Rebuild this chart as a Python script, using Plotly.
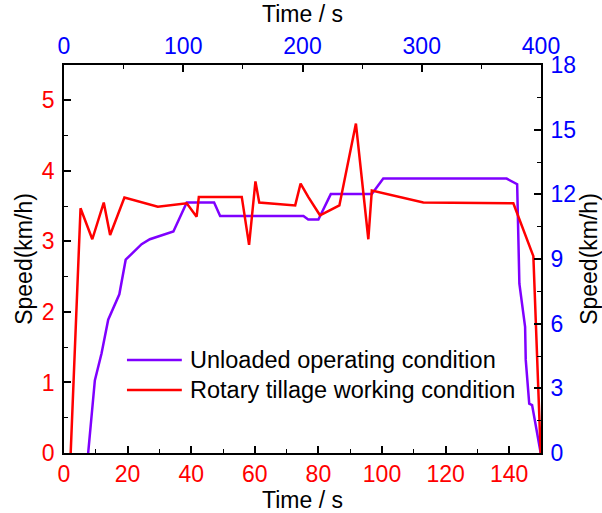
import plotly.graph_objects as go

# Rotary tillage working condition (bottom/left axes: s, km/h)
rotary_t = [2.1, 5.2, 8.9, 12.5, 14.5, 19.0, 29.5, 38.6, 41.7, 42.4, 55.9, 58.2, 60.2, 61.4,
            72.7, 74.4, 76.8, 80.5, 86.6, 91.8, 95.7, 96.8, 113.0, 137.6, 141.3, 147.6, 149.9]
rotary_v = [0.0, 3.47, 3.03, 3.55, 3.09, 3.62, 3.49, 3.54, 3.35, 3.63, 3.63, 2.95, 3.85, 3.55,
            3.51, 3.82, 3.63, 3.37, 3.51, 4.67, 3.03, 3.72, 3.55, 3.55, 3.54, 2.79, 0.0]

# Unloaded operating condition
unloaded_t = [7.6, 9.7, 11.8, 13.9, 17.4, 19.4, 24.4, 27.0, 34.4, 38.6, 47.2, 49.1, 75.3, 76.8,
              80.0, 83.9, 96.8, 100.4, 139.2, 142.5, 143.2, 145.0, 145.2, 146.3, 147.2, 149.9]
unloaded_v = [0.0, 1.03, 1.41, 1.89, 2.25, 2.74, 2.96, 3.03, 3.14, 3.55, 3.55, 3.36, 3.36, 3.31,
              3.31, 3.67, 3.67, 3.89, 3.89, 3.81, 2.40, 1.79, 1.32, 0.70, 0.68, 0.0]

series_names = ["Unloaded operating condition", "Rotary tillage working condition"]

bottom_ticks = [0, 20, 40, 60, 80, 100, 120, 140]
left_ticks = [0, 1, 2, 3, 4, 5]
top_ticks = [0, 100, 200, 300, 400]
right_ticks = [0, 3, 6, 9, 12, 15, 18]

RED = "#FF0000"
PURPLE = "#7F00FF"
BLUE = "#0000FF"
FONT = "Liberation Sans, Arial, sans-serif"
TICK = 23
TITLE = 23
LEGEND = 23.5

fig = go.Figure()
fig.add_trace(go.Scatter(x=unloaded_t, y=unloaded_v, mode="lines",
                         line=dict(color=PURPLE, width=2.5), name=series_names[0]))
fig.add_trace(go.Scatter(x=rotary_t, y=rotary_v, mode="lines",
                         line=dict(color=RED, width=2.5), name=series_names[1]))
# anchor trace so top/right axes are drawn
fig.add_trace(go.Scatter(x=[None], y=[None], xaxis="x2", yaxis="y2",
                         showlegend=False, hoverinfo="skip"))

axis_common = dict(showline=True, linecolor="black", linewidth=1.6, mirror=False,
                   ticks="inside", ticklen=7, tickwidth=1.5, tickcolor="black",
                   showgrid=False, zeroline=False, automargin=False)
minor_common = dict(ticks="inside", ticklen=4, tickwidth=1.3, tickcolor="black")

fig.update_layout(
    width=602, height=513,
    margin=dict(l=64, r=61, t=65, b=60),
    plot_bgcolor="white", paper_bgcolor="white",
    font=dict(family=FONT, size=TICK, color="black"),
    showlegend=False,
    xaxis=dict(range=[0, 150], tickvals=bottom_ticks,
               tickfont=dict(color=RED, size=TICK),
               title=dict(text="Time / s", font=dict(size=TITLE, color="black"), standoff=4),
               minor=dict(dtick=10, **minor_common), **axis_common),
    yaxis=dict(range=[0, 5.5], tickvals=left_ticks,
               tickfont=dict(color=RED, size=TICK), ticklabelstandoff=3,
               title=dict(text="Speed(km/h)", font=dict(size=TITLE, color="black"), standoff=3),
               minor=dict(dtick=0.5, **minor_common), **axis_common),
    xaxis2=dict(range=[0, 400], tickvals=top_ticks, overlaying="x", side="top", anchor="y",
                tickfont=dict(color=BLUE, size=TICK),
                title=dict(text="Time / s", font=dict(size=TITLE, color="black"), standoff=4),
                minor=dict(dtick=50, **minor_common), **axis_common),
    yaxis2=dict(range=[0, 18], tickvals=right_ticks, overlaying="y", side="right", anchor="x",
                tickfont=dict(color=BLUE, size=TICK), ticklabelstandoff=3,
                title=dict(text="Speed(km/h)", font=dict(size=TITLE, color="black"), standoff=3),
                minor=dict(dtick=1.5, **minor_common), **axis_common),
)

# Manual legend (sample lines + labels) in paper coordinates
legend_colors = [PURPLE, RED]
legend_y = [0.2397, 0.1624]
for name, col, ly in zip(series_names, legend_colors, legend_y):
    fig.add_shape(type="line", xref="paper", yref="paper", x0=0.132, x1=0.247, y0=ly, y1=ly,
                  line=dict(color=col, width=2.5))
    fig.add_annotation(xref="paper", yref="paper", x=0.26, y=ly, xanchor="left", yanchor="middle",
                       text=name, showarrow=False, font=dict(size=LEGEND, color="black"))

fig.write_html("out.html", config={"displayModeBar": False},
               post_script="document.body.style.margin='0px';document.body.style.overflow='hidden';")
